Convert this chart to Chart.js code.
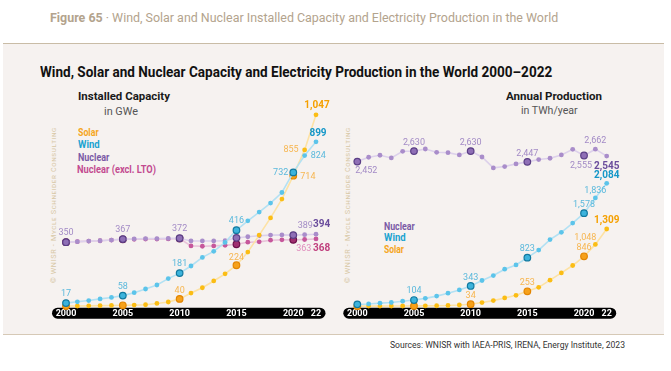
<!DOCTYPE html>
<html>
<head>
<meta charset="utf-8">
<script src="https://cdn.jsdelivr.net/npm/chart.js@4.4.1/dist/chart.umd.min.js"></script>
<style>
  html, body { margin: 0; padding: 0; background: #fff; }
  body { width: 671px; height: 371px; position: relative; overflow: hidden; font-family: Roboto, "Liberation Sans", sans-serif; }
  .t { position: absolute; white-space: nowrap; line-height: 14px; transform-origin: left center; }
  #panel { position: absolute; left: 3px; top: 43px; width: 661px; height: 292px; box-sizing: border-box;
           background: #f6f2f0; border-top: 1.5px solid #c9bca6; border-bottom: 1.5px solid #d6c9b6; }
  canvas { position: absolute; }
  .leg { font-size: 10px; font-weight: 700; }
  .copy { font-size: 6.5px; color: #d8c8a6; letter-spacing: 0.6px; font-variant: small-caps; }
</style>
</head>
<body>
<div id="panel"></div>

<div class="t" style="left:50px; top:11px; font-size:12px; color:#b3a38d;" data-w="508"><b>Figure 65</b> · Wind, Solar and Nuclear Installed Capacity and Electricity Production in the World</div>
<div class="t" style="left:40px; top:65px; font-size:14px; font-weight:700; color:#111;" data-w="512">Wind, Solar and Nuclear Capacity and Electricity Production in the World 2000–2022</div>

<div class="t" style="left:78px; top:89px; font-size:11.5px; font-weight:700; color:#1a1a1a;" data-w="92">Installed Capacity</div>
<div class="t" style="left:104px; top:105px; font-size:10px; color:#555;" data-w="34">in GWe</div>
<div class="t leg" style="left:78px; top:126px; color:#f5a51c;" data-w="20.6">Solar</div>
<div class="t leg" style="left:78px; top:138px; color:#1aa3d0;" data-w="21.7">Wind</div>
<div class="t leg" style="left:78px; top:151px; color:#7a5aa6;" data-w="31.3">Nuclear</div>
<div class="t leg" style="left:77px; top:163px; color:#c34b90;" data-w="79">Nuclear (excl. LTO)</div>

<div class="t" style="left:506px; top:89px; font-size:11.5px; font-weight:700; color:#1a1a1a;" data-w="96">Annual Production</div>
<div class="t" style="left:521px; top:104px; font-size:10px; color:#555;" data-w="56.7">in TWh/year</div>
<div class="t leg" style="left:384px; top:220px; color:#7a5aa6;" data-w="30.7">Nuclear</div>
<div class="t leg" style="left:384px; top:231px; color:#1aa3d0;" data-w="21.7">Wind</div>
<div class="t leg" style="left:384px; top:243px; color:#f5a51c;" data-w="20">Solar</div>

<div class="t copy" style="left:54px; top:276px;" data-w="156" data-rot="1">© WNISR - Mycle Schneider Consulting</div>
<div class="t copy" style="left:348px; top:276px;" data-w="156" data-rot="1">© WNISR - Mycle Schneider Consulting</div>

<div class="t" style="left:390px; top:338px; font-size:8.5px; color:#333;" data-w="235">Sources: WNISR with IAEA-PRIS, IRENA, Energy Institute, 2023</div>

<canvas id="capChart" width="300" height="235" style="left:40px; top:90px;"></canvas>
<canvas id="prodChart" width="320" height="235" style="left:340px; top:90px;"></canvas>

<script>
// --- data ---
const years = [2000, 2001, 2002, 2003, 2004, 2005, 2006, 2007, 2008, 2009, 2010, 2011,
               2012, 2013, 2014, 2015, 2016, 2017, 2018, 2019, 2020, 2021, 2022];
const tickYears = [2000, 2005, 2010, 2015, 2020, 2022];
const tickText = ['2000', '2005', '2010', '2015', '2020', '22'];
const markerYears = [2000, 2005, 2010, 2015, 2020];

// installed capacity, GWe
const capSolar = [1, 1, 2, 3, 4, 5, 6, 8, 15, 23, 40, 72, 101, 138, 177, 224, 296, 389, 483, 586, 714, 855, 1047];
const capWind = [17, 24, 31, 40, 48, 58, 74, 94, 116, 151, 181, 220, 267, 300, 349, 416, 467, 515, 564, 622, 732, 824, 899];
const capNuclear = [350, 353, 356, 358, 362, 367, 368, 370, 370, 371, 372, 357, 357, 357, 358, 374, 380, 385, 389, 390, 389, 391, 394];
const capNuclearExLTO = [350, 353, 356, 358, 362, 366, 366, 367, 367, 368, 370, 330, 328, 330, 333, 339, 350, 352, 361, 363, 363, 365, 368];

// annual production, TWh/year
const prodNuclear = [2452, 2525, 2559, 2514, 2626, 2630, 2665, 2609, 2603, 2564, 2630, 2530, 2345, 2368, 2413, 2447, 2486, 2508, 2564, 2660, 2555, 2662, 2545];
const prodWind = [31, 38, 52, 63, 85, 104, 133, 171, 220, 276, 343, 436, 520, 627, 699, 823, 951, 1130, 1253, 1410, 1578, 1836, 2084];
const prodSolar = [1, 2, 2, 3, 3, 5, 6, 8, 12, 20, 34, 62, 95, 140, 185, 253, 320, 442, 565, 690, 846, 1048, 1309];

// --- styling ---
const palette = {
    'Solar': { dot: '#fbbd14', mark: '#f6a11a', edge: '#e38500', line: '#fde2a4', text: '#f7b650', bold: '#f5a000' },
    'Wind': { dot: '#5cc4ea', mark: '#3cb3dc', edge: '#12799f', line: '#b3e1f3', text: '#5bb9dc', bold: '#1597c8' },
    'Nuclear': { dot: '#a98dca', mark: '#8f6fb6', edge: '#5b3f86', line: '#ddd1eb', text: '#a38bc6', bold: '#6a4c9c' },
    'Nuclear (excl. LTO)': { dot: '#c6579b', mark: '#a02f70', edge: '#6e0f4a', line: '#e9c3da', text: '#df8dbc', bold: '#c0417e' }
};
const FONT = 'Roboto, "Liberation Sans", sans-serif';

const isMark = i => markerYears.includes(years[i]);

function series(label, data) {
    const c = palette[label];
    return {
        label, data,
        borderColor: c.line,
        borderWidth: 1.6,
        pointRadius: ctx => isMark(ctx.dataIndex) ? 3.3 : 2.4,
        pointBackgroundColor: ctx => isMark(ctx.dataIndex) ? c.mark : c.dot,
        pointBorderColor: ctx => isMark(ctx.dataIndex) ? c.edge : c.dot,
        pointBorderWidth: ctx => isMark(ctx.dataIndex) ? 1.2 : 0,
        tension: 0,
        clip: false
    };
}

// black rounded bar behind the year ticks
const pillAxis = {
    id: 'pillAxis',
    beforeDraw(chart) {
        const { ctx, chartArea } = chart;
        const x = chart.scales.x;
        const x0 = x.getPixelForValue(0) - 14;
        const x1 = x.getPixelForValue(years.length - 1) + 9.5;
        const y0 = chartArea.bottom + 1.5, h = 11;
        ctx.save();
        ctx.fillStyle = '#000';
        ctx.beginPath();
        ctx.roundRect(x0, y0, x1 - x0, h, h / 2);
        ctx.fill();
        ctx.restore();
    }
};

function labelPlugin(items) {
    return {
        id: 'pointLabels',
        afterDatasetsDraw(chart) {
            const ctx = chart.ctx;
            ctx.save();
            ctx.textBaseline = 'middle';
            items.forEach(it => {
                const di = chart.data.datasets.findIndex(d => d.label === it.s);
                const i = years.indexOf(it.y);
                const pt = chart.getDatasetMeta(di).data[i];
                const val = chart.data.datasets[di].data[i];
                const c = palette[it.s];
                ctx.font = (it.bold ? 'bold 10px ' : '9px ') + FONT;
                ctx.fillStyle = it.bold ? c.bold : c.text;
                ctx.textAlign = it.align || 'center';
                ctx.fillText(val.toLocaleString('en-US'), pt.x + (it.dx || 0), pt.y + (it.dy || 0));
            });
            ctx.restore();
        }
    };
}

const capLabels = [
    { s: 'Nuclear', y: 2000, dy: -9 }, { s: 'Nuclear', y: 2005, dy: -9 }, { s: 'Nuclear', y: 2010, dy: -9 },
    { s: 'Nuclear', y: 2020, dx: 12, dy: -9.5 }, { s: 'Nuclear', y: 2022, dx: -3, dy: -9.5, align: 'left', bold: true },
    { s: 'Nuclear (excl. LTO)', y: 2020, dx: 10.5, dy: 8.8 },
    { s: 'Nuclear (excl. LTO)', y: 2022, dx: -3, dy: 9.5, align: 'left', bold: true },
    { s: 'Wind', y: 2000, dy: -9 }, { s: 'Wind', y: 2005, dy: -9 }, { s: 'Wind', y: 2010, dy: -9 },
    { s: 'Wind', y: 2015, dy: -9 }, { s: 'Wind', y: 2020, dx: -5, align: 'right' },
    { s: 'Wind', y: 2021, dx: 6, dy: 0.5, align: 'left' }, { s: 'Wind', y: 2022, dx: 2, dy: -8, bold: true },
    { s: 'Solar', y: 2010, dy: -8.5 }, { s: 'Solar', y: 2015, dy: -8 },
    { s: 'Solar', y: 2020, dx: 7, dy: 1, align: 'left' }, { s: 'Solar', y: 2021, dx: -6, align: 'right' },
    { s: 'Solar', y: 2022, dx: 1, dy: -9.5, bold: true }
];

const prodLabels = [
    { s: 'Nuclear', y: 2000, dx: 9, dy: 9.5 }, { s: 'Nuclear', y: 2005, dy: -8.6 }, { s: 'Nuclear', y: 2010, dy: -8.6 },
    { s: 'Nuclear', y: 2015, dy: -8.6 }, { s: 'Nuclear', y: 2020, dx: -3, dy: 10 },
    { s: 'Nuclear', y: 2021, dy: -8 }, { s: 'Nuclear', y: 2022, dy: 10, bold: true },
    { s: 'Wind', y: 2005, dy: -9.5 }, { s: 'Wind', y: 2010, dy: -8.7 }, { s: 'Wind', y: 2015, dy: -9.3 },
    { s: 'Wind', y: 2020, dy: -8.6 }, { s: 'Wind', y: 2021, dy: -7 }, { s: 'Wind', y: 2022, dy: -7.5, bold: true },
    { s: 'Solar', y: 2010, dy: -8.5 }, { s: 'Solar', y: 2015, dy: -8.7 }, { s: 'Solar', y: 2020, dy: -9 },
    { s: 'Solar', y: 2021, dx: -10, dy: -7 }, { s: 'Solar', y: 2022, dy: -8, bold: true }
];

function baseOptions(yMax, padL, padR) {
    return {
        responsive: false,
        animation: false,
        events: [],
        layout: { padding: { left: padL, right: padR, top: 10, bottom: 4 } },
        plugins: { legend: { display: false }, tooltip: { enabled: false } },
        scales: {
            x: {
                grid: { display: false, drawTicks: false },
                border: { display: false },
                ticks: {
                    autoSkip: false, maxRotation: 0, padding: 2, color: '#fff',
                    font: { family: FONT, size: 9, weight: 'bold' },
                    callback: (v, i) => {
                        const k = tickYears.indexOf(years[i]);
                        return k >= 0 ? tickText[k] : '';
                    }
                }
            },
            y: { display: false, min: 0, max: yMax }
        }
    };
}

new Chart(document.getElementById('capChart'), {
    type: 'line',
    data: {
        labels: years,
        datasets: [
            series('Wind', capWind),
            series('Solar', capSolar),
            series('Nuclear', capNuclear),
            series('Nuclear (excl. LTO)', capNuclearExLTO)
        ]
    },
    options: baseOptions(1128, 26, 24),
    plugins: [pillAxis, labelPlugin(capLabels)]
});

new Chart(document.getElementById('prodChart'), {
    type: 'line',
    data: {
        labels: years,
        datasets: [
            series('Wind', prodWind),
            series('Solar', prodSolar),
            series('Nuclear', prodNuclear)
        ]
    },
    options: baseOptions(3496, 17.3, 53.3),
    plugins: [pillAxis, labelPlugin(prodLabels)]
});

// squeeze text lines to the widths measured on the reference
document.querySelectorAll('[data-w]').forEach(el => {
    const w = el.getBoundingClientRect().width;
    const s = +el.dataset.w / w;
    el.style.transform = (el.dataset.rot ? 'rotate(-90deg) ' : '') + 'scaleX(' + s.toFixed(3) + ')';
});
</script>
</body>
</html>
